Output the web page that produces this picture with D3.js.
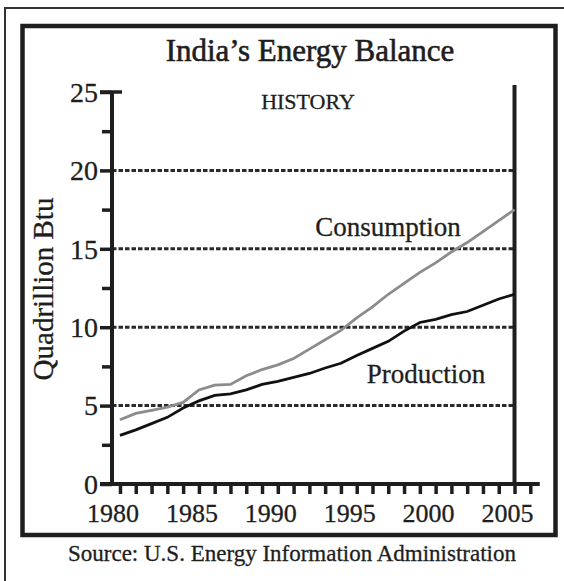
<!DOCTYPE html>
<html>
<head>
<meta charset="utf-8">
<script src="https://cdn.jsdelivr.net/npm/d3@7"></script>
<style>
  html, body { margin: 0; padding: 0; background: #fff; }
  svg { display: block; }
  text { font-family: "Liberation Serif", "Times New Roman", serif; fill: #1e1e1e; stroke: #1e1e1e; stroke-width: 0.3; }
</style>
</head>
<body>
<svg id="chart" width="564" height="581"></svg>
<script>
// ---- data ----
const years = d3.range(1980, 2006);
const consumption = [4.1, 4.5, 4.7, 4.9, 5.2, 6.0, 6.3, 6.35, 6.9, 7.3, 7.6, 8.0, 8.6,
                     9.2, 9.8, 10.6, 11.3, 12.1, 12.8, 13.5, 14.1, 14.8, 15.4, 16.1, 16.8, 17.5];
const production = [3.1, 3.45, 3.85, 4.25, 4.85, 5.3, 5.65, 5.75, 6.0, 6.35, 6.55, 6.8, 7.05,
                    7.4, 7.7, 8.2, 8.65, 9.1, 9.75, 10.3, 10.5, 10.8, 11.0, 11.4, 11.8, 12.1];
const yMajorTicks = [0, 5, 10, 15, 20, 25];
const yMinorTicks = [2.5, 7.5, 12.5, 17.5, 22.5];
const gridValues = [5, 10, 15, 20];
const xTickYears = d3.range(1980, 2007);
const xLabelYears = [1980, 1985, 1990, 1995, 2000, 2005];
const titleText = "India\u2019s Energy Balance";
const subText = "HISTORY";
const yTitle = "Quadrillion Btu";
const sourceText = "Source: U.S. Energy Information Administration";
const seriesLabels = ["Consumption", "Production"];

// ---- layout ----
const svg = d3.select("#chart");
const ink = "#1e1e1e";
const x = d3.scaleLinear().domain([1980, 2006]).range([120, 530.3]);
const y = d3.scaleLinear().domain([0, 25]).range([484, 92]);
const axisX = 112;

// outer & inner frames
svg.append("rect").attr("x", 5).attr("y", 8).attr("width", 600).attr("height", 600)
  .attr("fill", "none").attr("stroke", "#333").attr("stroke-width", 2);
svg.append("rect").attr("x", 22.5).attr("y", 26).attr("width", 533).attr("height", 509)
  .attr("fill", "none").attr("stroke", ink).attr("stroke-width", 4.5);

// title
svg.append("text").attr("x", 310).attr("y", 61).attr("text-anchor", "middle")
  .attr("font-size", 31).style("stroke-width", 0.6).text(titleText);
svg.append("text").attr("x", 308).attr("y", 109).attr("text-anchor", "middle")
  .attr("font-size", 22).text(subText);

// gridlines
svg.append("g").selectAll("line").data(gridValues).join("line")
  .attr("x1", axisX).attr("x2", x(2005))
  .attr("y1", d => y(d)).attr("y2", d => y(d))
  .attr("stroke", "#2a2a2a").attr("stroke-width", 3).attr("stroke-dasharray", "4.5,2");

// right vertical line
svg.append("line").attr("x1", x(2005)).attr("x2", x(2005))
  .attr("y1", y(25.45)).attr("y2", y(0))
  .attr("stroke", ink).attr("stroke-width", 4);

// series lines
const line = d3.line().x((d, i) => x(years[i])).y(d => y(d));
svg.append("path").datum(consumption).attr("d", line)
  .attr("fill", "none").attr("stroke", "#8c8c8c").attr("stroke-width", 2.8);
svg.append("path").datum(production).attr("d", line)
  .attr("fill", "none").attr("stroke", "#111").attr("stroke-width", 2.8);

// series labels
svg.append("text").attr("x", 388).attr("y", 236).attr("text-anchor", "middle")
  .attr("font-size", 27).text(seriesLabels[0]);
svg.append("text").attr("x", 426).attr("y", 383).attr("text-anchor", "middle")
  .attr("font-size", 27).text(seriesLabels[1]);

// y axis
const yMajor = svg.append("g").attr("transform", `translate(${axisX},0)`)
  .call(d3.axisLeft(y).tickValues(yMajorTicks).tickSize(12).tickPadding(2).tickFormat(d3.format("d")));
const yMinor = svg.append("g").attr("transform", `translate(${axisX},0)`)
  .call(d3.axisLeft(y).tickValues(yMinorTicks).tickSize(10).tickFormat(""));
[yMajor, yMinor].forEach(g => {
  g.select(".domain").remove();
  g.selectAll(".tick line").attr("stroke", ink).attr("stroke-width", 3.5);
});
yMajor.selectAll(".tick text").attr("font-size", 28).attr("fill", ink)
  .attr("font-family", "Liberation Serif, serif").attr("dy", "0.33em");
// axis line
svg.append("line").attr("x1", axisX).attr("x2", axisX).attr("y1", y(25)).attr("y2", y(0) + 2)
  .attr("stroke", ink).attr("stroke-width", 4);
// top cap at 25
svg.append("line").attr("x1", axisX - 12).attr("x2", axisX + 10).attr("y1", y(25)).attr("y2", y(25))
  .attr("stroke", ink).attr("stroke-width", 3.5);

// y title
svg.append("text").attr("transform", `translate(53,289) rotate(-90)`)
  .attr("text-anchor", "middle").attr("font-size", 29).text(yTitle);

// x axis
const xAxis = svg.append("g").attr("transform", `translate(0,${y(0)})`)
  .call(d3.axisBottom(x).tickValues(xTickYears).tickSize(10).tickFormat(""));
xAxis.select(".domain").remove();
xAxis.selectAll(".tick line").attr("stroke", ink).attr("stroke-width", 3.5);
svg.append("line").attr("x1", axisX - 12).attr("x2", x(2006.6)).attr("y1", y(0)).attr("y2", y(0))
  .attr("stroke", ink).attr("stroke-width", 4);

svg.append("g").selectAll("text").data(xLabelYears).join("text")
  .attr("x", d => x(d) - 7).attr("y", 522).attr("text-anchor", "middle")
  .attr("font-size", 26).text(d => d);

// source
svg.append("text").attr("x", 292).attr("y", 561).attr("text-anchor", "middle")
  .attr("font-size", 23).text(sourceText);
</script>
</body>
</html>
